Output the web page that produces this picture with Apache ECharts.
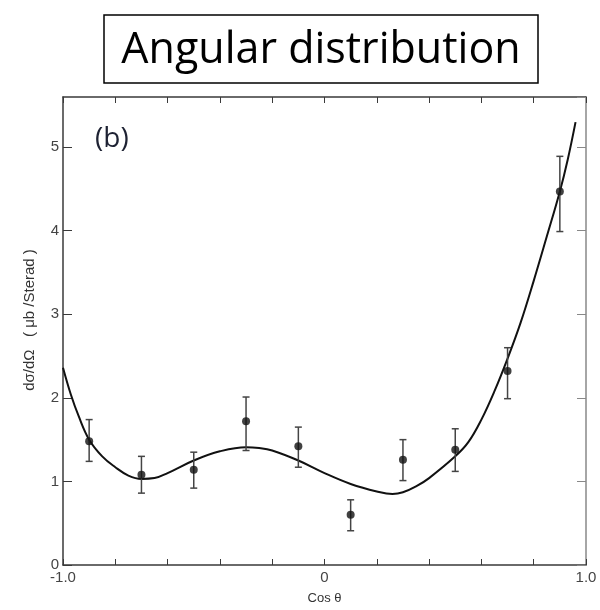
<!DOCTYPE html>
<html>
<head>
<meta charset="utf-8">
<script src="https://cdn.jsdelivr.net/npm/echarts@6/dist/echarts.min.js"></script>
<style>
  html, body { margin: 0; padding: 0; background: #fff; }
  #chart { width: 600px; height: 610px; }
</style>
</head>
<body>
<div id="chart"></div>
<script>
// measured points (cos theta, dsigma/dOmega) with error bars
var pointX = [-0.9, -0.7, -0.5, -0.3, -0.1, 0.1, 0.3, 0.5, 0.7, 0.9];
var pointY = [1.48, 1.08, 1.14, 1.72, 1.42, 0.60, 1.26, 1.38, 2.32, 4.47];
var errLow = [1.24, 0.86, 0.92, 1.37, 1.17, 0.41, 1.01, 1.12, 1.99, 3.99];
var errHigh = [1.74, 1.30, 1.35, 2.01, 1.65, 0.78, 1.50, 1.63, 2.60, 4.89];

// fitted curve
var fitX = [-1.0, -0.97, -0.94, -0.9, -0.85, -0.8, -0.75, -0.7, -0.65, -0.6, -0.5, -0.4, -0.3, -0.25, -0.2, -0.1, 0.0, 0.1, 0.2, 0.26, 0.3, 0.35, 0.4, 0.5, 0.55, 0.6, 0.65, 0.7, 0.75, 0.8, 0.85, 0.9, 0.93, 0.96];
var fitY = [2.36, 2.04, 1.78, 1.50, 1.30, 1.17, 1.07, 1.03, 1.04, 1.10, 1.25, 1.36, 1.41, 1.40, 1.37, 1.25, 1.10, 0.97, 0.88, 0.85, 0.87, 0.94, 1.04, 1.30, 1.47, 1.74, 2.08, 2.47, 2.90, 3.40, 3.93, 4.47, 4.85, 5.30];

var xTickLabels = { '-1': '-1.0', '0': '0', '1': '1.0' };
var yTickLabels = ['0', '1', '2', '3', '4', '5'];

var fitData = fitX.map(function (x, i) { return [x, fitY[i]]; });
var pointData = pointX.map(function (x, i) { return [x, pointY[i]]; });
var errData = pointX.map(function (x, i) { return [x, errLow[i], errHigh[i]]; });

var axisColor = '#3a3a3a';
var labelFont = '"Liberation Sans", Arial, sans-serif';

var myChart = echarts.init(document.getElementById('chart'));

var option = {
    backgroundColor: '#fff',
    animation: false,
    graphic: [
        {
            type: 'rect',
            shape: { x: 104, y: 15, width: 434, height: 68 },
            style: { fill: 'none', stroke: '#000', lineWidth: 1.5 }
        },
        {
            type: 'text',
            style: {
                x: 321, y: 51,
                text: 'Angular distribution',
                font: '43px "Open Sans", "Noto Sans", sans-serif',
                fill: '#000',
                textAlign: 'center',
                textVerticalAlign: 'middle'
            }
        },
        {
            type: 'text',
            style: {
                x: 95, y: 139,
                text: '(b)',
                font: '28px "Open Sans", "Noto Sans", sans-serif',
                fill: '#1e2233',
                textVerticalAlign: 'middle'
            }
        }
    ],
    grid: { left: 63, right: 14, top: 97, bottom: 45 },
    xAxis: [
        {
            type: 'value',
            min: -1, max: 1, interval: 0.2,
            position: 'bottom',
            name: 'Cos θ',
            nameLocation: 'middle',
            nameGap: 27,
            nameTextStyle: { color: '#333', fontSize: 13, fontFamily: labelFont },
            axisLine: { onZero: false, lineStyle: { color: axisColor, width: 1.5 } },
            axisTick: { inside: true, length: 6, lineStyle: { color: axisColor } },
            splitLine: { show: false },
            axisLabel: {
                margin: 5,
                color: '#444',
                fontSize: 15,
                fontFamily: labelFont,
                formatter: function (v) {
                    var k = String(Math.round(v * 10) / 10);
                    return xTickLabels[k] || '';
                }
            }
        },
        {
            type: 'value',
            min: -1, max: 1, interval: 0.2,
            position: 'top',
            axisLine: { onZero: false, lineStyle: { color: axisColor, width: 1.5 } },
            axisTick: { inside: true, length: 6, lineStyle: { color: axisColor } },
            axisLabel: { show: false },
            splitLine: { show: false }
        }
    ],
    yAxis: [
        {
            type: 'value',
            min: 0, max: 5.6, interval: 1,
            position: 'left',
            name: 'dσ/dΩ   ( μb /Sterad )',
            nameLocation: 'middle',
            nameGap: 26,
            nameTextStyle: { color: '#333', fontSize: 15, fontFamily: labelFont, padding: [0, 0, 0, 22] },
            axisLine: { onZero: false, lineStyle: { color: axisColor, width: 1.5 } },
            axisTick: { inside: true, length: 9, lineStyle: { color: axisColor } },
            splitLine: { show: false },
            axisLabel: {
                margin: 4,
                color: '#444',
                fontSize: 15,
                fontFamily: labelFont,
                showMaxLabel: false,
                formatter: function (v) {
                    return Math.abs(v - Math.round(v)) < 1e-6 ? (yTickLabels[Math.round(v)] || '') : '';
                }
            }
        },
        {
            type: 'value',
            min: 0, max: 5.6, interval: 1,
            position: 'right',
            axisLine: { show: true, onZero: false, lineStyle: { color: '#888', width: 1.5 } },
            axisTick: { show: true, inside: true, length: 9, lineStyle: { color: '#888' } },
            axisLabel: { show: false },
            splitLine: { show: false }
        }
    ],
    series: [
        {
            // 拟合曲线
            type: 'line',
            data: fitData,
            smooth: 0.4,
            showSymbol: false,
            lineStyle: { color: '#111', width: 2 },
            z: 2
        },
        {
            // 误差棒
            type: 'custom',
            data: errData,
            renderItem: function (params, api) {
                var x = api.value(0);
                var lo = api.coord([x, api.value(1)]);
                var hi = api.coord([x, api.value(2)]);
                var cap = 3.5;
                var style = { stroke: '#444', lineWidth: 1.5 };
                return {
                    type: 'group',
                    children: [
                        { type: 'line', shape: { x1: lo[0], y1: lo[1], x2: hi[0], y2: hi[1] }, style: style },
                        { type: 'line', shape: { x1: lo[0] - cap, y1: lo[1], x2: lo[0] + cap, y2: lo[1] }, style: style },
                        { type: 'line', shape: { x1: hi[0] - cap, y1: hi[1], x2: hi[0] + cap, y2: hi[1] }, style: style }
                    ]
                };
            },
            z: 3
        },
        {
            // 数据点
            type: 'scatter',
            data: pointData,
            symbol: 'circle',
            symbolSize: 8,
            itemStyle: { color: '#111' },
            z: 4
        }
    ]
};

myChart.setOption(option, true);
</script>
</body>
</html>
